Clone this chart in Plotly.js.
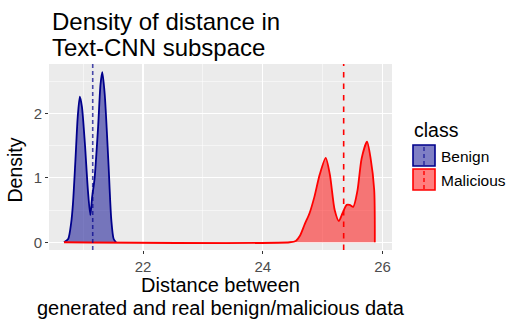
<!DOCTYPE html>
<html>
<head>
<meta charset="utf-8">
<script src="https://cdn.plot.ly/plotly-3.0.1.min.js"></script>
<style>
  html, body { margin: 0; padding: 0; background: #fff; }
  #chart { width: 522px; height: 325px; }
</style>
</head>
<body>
<div id="chart"></div>
<script>
// density estimates
const benignX = [20.68, 20.75, 20.80, 20.83, 20.87, 20.91, 20.945, 20.98, 21.03, 21.08, 21.12, 21.15, 21.19, 21.25, 21.29, 21.32, 21.36, 21.42, 21.47, 21.51, 21.55];
const benignY = [0, 0.05, 0.3, 0.6, 1.25, 1.95, 2.26, 2.1, 1.52, 0.8, 0.42, 0.7, 0.98, 1.79, 2.45, 2.64, 2.3, 1.28, 0.35, 0.05, 0];

const maliciousX = [20.68, 24.45, 24.55, 24.62, 24.70, 24.78, 24.86, 24.95, 25.05, 25.12, 25.20, 25.27, 25.33, 25.40, 25.45, 25.51, 25.58, 25.65, 25.74, 25.80, 25.86, 25.87];
const maliciousY = [0, 0, 0.02, 0.1, 0.28, 0.45, 0.7, 1.05, 1.31, 1.05, 0.5, 0.33, 0.45, 0.58, 0.58, 0.55, 0.8, 1.3, 1.56, 1.3, 0.81, 0];

const classNames = ['Benign', 'Malicious'];
const classMeans = [21.16, 25.35];

const lineCols = ['#00008B', '#FF0000'];
const fillCols = ['rgba(0,0,139,0.5)', 'rgba(255,0,0,0.5)'];
const dashCols = ['rgba(0,0,139,0.7)', '#FF0000'];
const dashPats = ['4px,3px', '5.5px,6px'];

const font = 'Liberation Sans, Arial, sans-serif';

// plot area in pixels (margins below)
const M = { l: 49, r: 130, t: 64, b: 75 };
const W = 522, H = 325;
const pw = W - M.l - M.r, ph = H - M.t - M.b;
const px = v => (v - M.l) / pw;          // pixel x -> paper x
const py = v => (H - M.b - v) / ph;      // pixel y -> paper y

const traces = [
  { x: benignX, y: benignY, name: classNames[0] },
  { x: maliciousX, y: maliciousY, name: classNames[1] }
].map((t, i) => ({
  x: t.x, y: t.y, name: t.name,
  type: 'scatter', mode: 'lines',
  line: { color: lineCols[i], width: 1.8, shape: 'spline', smoothing: 0.7 },
  fill: 'tozeroy', fillcolor: fillCols[i],
  hoverinfo: 'skip', showlegend: false
}));

const shapes = classMeans.map((m, i) => ({
  type: 'line', xref: 'x', yref: 'paper',
  x0: m, x1: m, y0: 0, y1: 1,
  line: { color: dashCols[i], width: 1.6, dash: dashPats[i] },
  layer: 'above'
}));

// legend keys drawn by hand, ggplot style
classNames.forEach((c, i) => {
  const top = 145 + i * 24;
  shapes.push({
    type: 'rect', xref: 'paper', yref: 'paper',
    x0: px(413), x1: px(435), y0: py(top + 21), y1: py(top),
    fillcolor: fillCols[i], line: { color: lineCols[i], width: 1.6 }
  });
  shapes.push({
    type: 'line', xref: 'paper', yref: 'paper',
    x0: px(424), x1: px(424), y0: py(top + 20), y1: py(top + 1),
    line: { color: dashCols[i], width: 1.4, dash: '4px,3px' }
  });
});

const annotations = [
  { text: 'Density of distance in', x: px(50), y: py(21), size: 24, xanchor: 'left' },
  { text: 'Text-CNN subspace', x: px(50), y: py(47), size: 24, xanchor: 'left' },
  { text: 'Distance between', x: 0.5, y: py(285), size: 20, xanchor: 'center' },
  { text: 'generated and real benign/malicious data', x: 0.5, y: py(308), size: 20, xanchor: 'center' },
  { text: 'class', x: px(412), y: py(130), size: 19.5, xanchor: 'left' },
  { text: classNames[0], x: px(439), y: py(156.5), size: 15.5, xanchor: 'left' },
  { text: classNames[1], x: px(439), y: py(180.5), size: 15.5, xanchor: 'left' }
].map(a => ({
  text: a.text, x: a.x, y: a.y, xref: 'paper', yref: 'paper',
  xanchor: a.xanchor, yanchor: 'middle', showarrow: false,
  font: { family: font, size: a.size, color: '#000000' }
}));

annotations.push({
  text: 'Density', x: px(14.5), y: py(170), xref: 'paper', yref: 'paper',
  xanchor: 'center', yanchor: 'middle', showarrow: false, textangle: -90,
  font: { family: font, size: 19.5, color: '#000000' }
});

const axisCommon = {
  showline: false, zeroline: false,
  gridcolor: '#FFFFFF', gridwidth: 1.1,
  ticks: 'outside', ticklen: 3, tickcolor: '#333333', tickwidth: 1,
  tickfont: { family: font, size: 15, color: '#4D4D4D' }
};

const layout = {
  width: W, height: H,
  margin: M,
  paper_bgcolor: '#FFFFFF',
  plot_bgcolor: '#EBEBEB',
  font: { family: font, color: '#000000' },
  xaxis: Object.assign({}, axisCommon, {
    range: [20.43, 26.157],
    tickvals: [22, 24, 26],
    minor: { tickvals: [21, 23, 25], showgrid: true, gridcolor: '#FFFFFF', gridwidth: 0.5, ticks: '' }
  }),
  yaxis: Object.assign({}, axisCommon, {
    range: [-0.12, 2.765],
    tickvals: [0, 1, 2],
    minor: { tickvals: [0.5, 1.5, 2.5], showgrid: true, gridcolor: '#FFFFFF', gridwidth: 0.5, ticks: '' }
  }),
  showlegend: false,
  shapes: shapes,
  annotations: annotations
};

Plotly.newPlot('chart', traces, layout, { displayModeBar: false, staticPlot: true });
</script>
</body>
</html>
